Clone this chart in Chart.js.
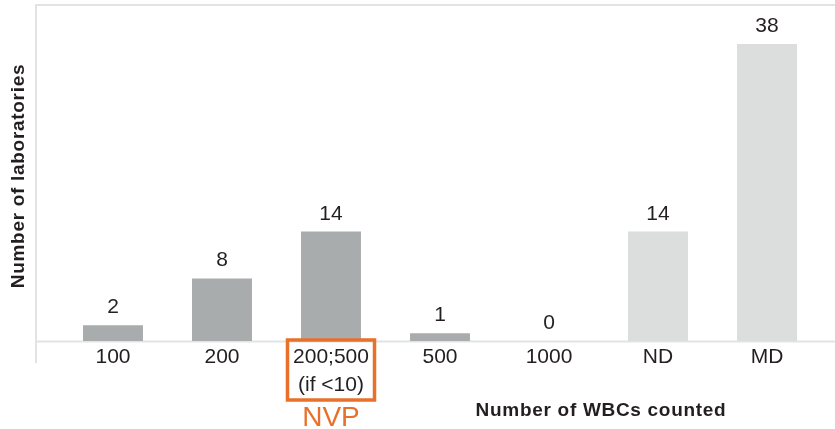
<!DOCTYPE html>
<html>
<head>
<meta charset="utf-8">
<script src="https://cdn.jsdelivr.net/npm/chart.js@4"></script>
<style>
  html, body { margin: 0; padding: 0; background: #ffffff; }
  #wrap { width: 835px; height: 429px; }
</style>
</head>
<body>
<div id="wrap"><canvas id="c" width="835" height="429"></canvas></div>
<script>
// Counting practice reported by laboratories
const categories = ['100', '200', ['200;500', '(if <10)'], '500', '1000', 'ND', 'MD'];
const labCounts = [2, 8, 14, 1, 0, 14, 38];
const barColors = ['#a9acac', '#a9acac', '#a9acac', '#a9acac', '#a9acac', '#dcdddd', '#dcdddd'];
const yMax = 43;
const highlightIndex = 2;
const highlightText = 'NVP';
const xTitle = 'Number of WBCs counted';
const yTitle = 'Number of laboratories';

const TEXT = '#231f20';
const FRAME = '#e2e3e3';
const ORANGE = '#e8702a';
const FONT = '"Liberation Sans", Arial, Helvetica, sans-serif';

const decorations = {
  id: 'decorations',
  beforeDatasetsDraw(chart) {
    const { ctx, chartArea } = chart;
    ctx.save();
    ctx.strokeStyle = FRAME;
    ctx.lineWidth = 2;
    // open frame: top edge, left edge and baseline
    ctx.beginPath();
    ctx.moveTo(chart.width, chartArea.top);
    ctx.lineTo(36, chartArea.top);
    ctx.lineTo(36, chartArea.bottom + 22);
    ctx.moveTo(36, chartArea.bottom + 0.5);
    ctx.lineTo(chart.width, chartArea.bottom + 0.5);
    ctx.stroke();
    ctx.restore();
  },
  afterDraw(chart) {
    const { ctx, chartArea } = chart;
    const meta = chart.getDatasetMeta(0);
    ctx.save();
    // value labels above each bar
    ctx.fillStyle = TEXT;
    ctx.font = '21px ' + FONT;
    ctx.textAlign = 'center';
    ctx.textBaseline = 'alphabetic';
    meta.data.forEach((bar, i) => {
      ctx.fillText(String(labCounts[i]), bar.x, bar.y - 12);
    });

    // highlighted category box and tag
    const hx = chart.scales.x.getPixelForValue(highlightIndex);
    ctx.strokeStyle = ORANGE;
    ctx.lineWidth = 3.5;
    ctx.strokeRect(hx - 43.5, chartArea.bottom - 1, 87, 60);
    ctx.fillStyle = ORANGE;
    ctx.font = '28px ' + FONT;
    ctx.textBaseline = 'middle';
    ctx.fillText(highlightText, hx, chartArea.bottom + 77);

    // axis titles
    ctx.fillStyle = TEXT;
    ctx.font = 'bold 19px ' + FONT;
    ctx.letterSpacing = '0.7px';
    ctx.fillText(xTitle, 601, chartArea.bottom + 70);
    ctx.translate(19, 176);
    ctx.rotate(-Math.PI / 2);
    ctx.fillText(yTitle, 0, 0);
    ctx.restore();
  }
};

new Chart(document.getElementById('c'), {
  type: 'bar',
  data: {
    labels: categories,
    datasets: [{
      data: labCounts,
      backgroundColor: barColors,
      borderWidth: 0,
      categoryPercentage: 1,
      barPercentage: 0.55
    }]
  },
  options: {
    responsive: false,
    animation: false,
    layout: { padding: { left: 58.5, right: 13.5, top: 5, bottom: 0 } },
    plugins: { legend: { display: false }, tooltip: { enabled: false } },
    scales: {
      x: {
        grid: { display: false, drawTicks: false },
        border: { display: false },
        ticks: {
          color: TEXT,
          font: { size: 21, family: FONT, lineHeight: 1.3 },
          padding: 3,
          maxRotation: 0,
          autoSkip: false
        },
        afterFit(scale) { scale.height = 88; }
      },
      y: {
        display: false,
        min: 0,
        max: yMax
      }
    }
  },
  plugins: [decorations]
});
</script>
</body>
</html>
